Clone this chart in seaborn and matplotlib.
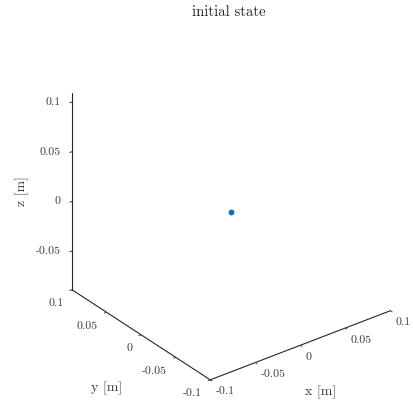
import matplotlib
matplotlib.use("Agg")
import matplotlib.pyplot as plt
import seaborn as sns

sns.set_theme(style="white")
plt.rcParams["font.family"] = ["cmr10", "DejaVu Serif"]
plt.rcParams["axes.unicode_minus"] = False
plt.rcParams["axes.formatter.use_mathtext"] = True

# position of the body in the initial state
x_pos = [0.0]
y_pos = [0.0]
z_pos = [0.0]

xy_ticks = [-0.1, -0.05, 0.0, 0.05, 0.1]
xy_tick_labels = ["-0.1", "-0.05", "0", "0.05", "0.1"]
z_ticks = [-0.05, 0.0, 0.05, 0.1]
z_tick_labels = ["-0.05", "0", "0.05", "0.1"]

axis_color = "#262626"
text_color = "#3a3a3a"
point_color = "#0072BD"

fig = plt.figure(figsize=(4.14, 4.02), dpi=100)
ax = fig.add_axes([0.046, 0.0075, 1.0, 0.95], projection="3d", proj_type="ortho")
ax.view_init(elev=30, azim=-127.5)
ax.set_box_aspect((1, 1, 1), zoom=1.0)

ax.scatter(x_pos, y_pos, z_pos, s=10, color=point_color, depthshade=False)

ax.set_xlim(-0.1, 0.1)
ax.set_ylim(-0.1, 0.1)
ax.set_zlim(-0.089, 0.109)

ax.set_xticks(xy_ticks, xy_tick_labels)
ax.set_yticks(xy_ticks, xy_tick_labels)
ax.set_zticks(z_ticks, z_tick_labels)

ax.grid(False)
for axis in (ax.xaxis, ax.yaxis, ax.zaxis):
    axis.set_pane_color((1, 1, 1, 0))
    axis.line.set_color(axis_color)
    axis.line.set_linewidth(0.8)
    axis._axinfo["tick"]["color"] = axis_color
    axis._axinfo["tick"]["linewidth"] = {True: 0.7, False: 0.5}
    axis._axinfo["tick"]["inward_factor"] = 0.15
    axis._axinfo["tick"]["outward_factor"] = 0.0

ax.tick_params(axis="x", labelsize=8.5, colors=text_color, pad=-2.6)
ax.tick_params(axis="y", labelsize=8.5, colors=text_color, pad=-1.2)
ax.tick_params(axis="z", labelsize=8.5, colors=text_color, pad=-3)

# tick labels hang off the tick ends: x to the right, y and z to the left
for lbl in ax.get_xticklabels():
    lbl.set_horizontalalignment("left")
    lbl.set_verticalalignment("center")
for lbl in ax.get_yticklabels():
    lbl.set_horizontalalignment("right")
    lbl.set_verticalalignment("center")
for lbl in ax.get_zticklabels():
    lbl.set_horizontalalignment("right")
    lbl.set_verticalalignment("center")

# axis titles kept horizontal, placed beside their axes
fig.text(321 / 414, 1 - 392 / 402, "x [m]", fontsize=10, color=text_color,
         ha="center", va="center")
fig.text(107 / 414, 1 - 388 / 402, "y [m]", fontsize=10, color=text_color,
         ha="center", va="center")
fig.text(22 / 414, 1 - 191 / 402, "z [m]", fontsize=10, color=text_color,
         ha="center", va="center", rotation=90)

fig.text(229 / 414, 1 - 12.5 / 402, "initial state", fontsize=10.5,
         color="#222222", ha="center", va="center")

fig.savefig("out.png", dpi=100, facecolor="white")
